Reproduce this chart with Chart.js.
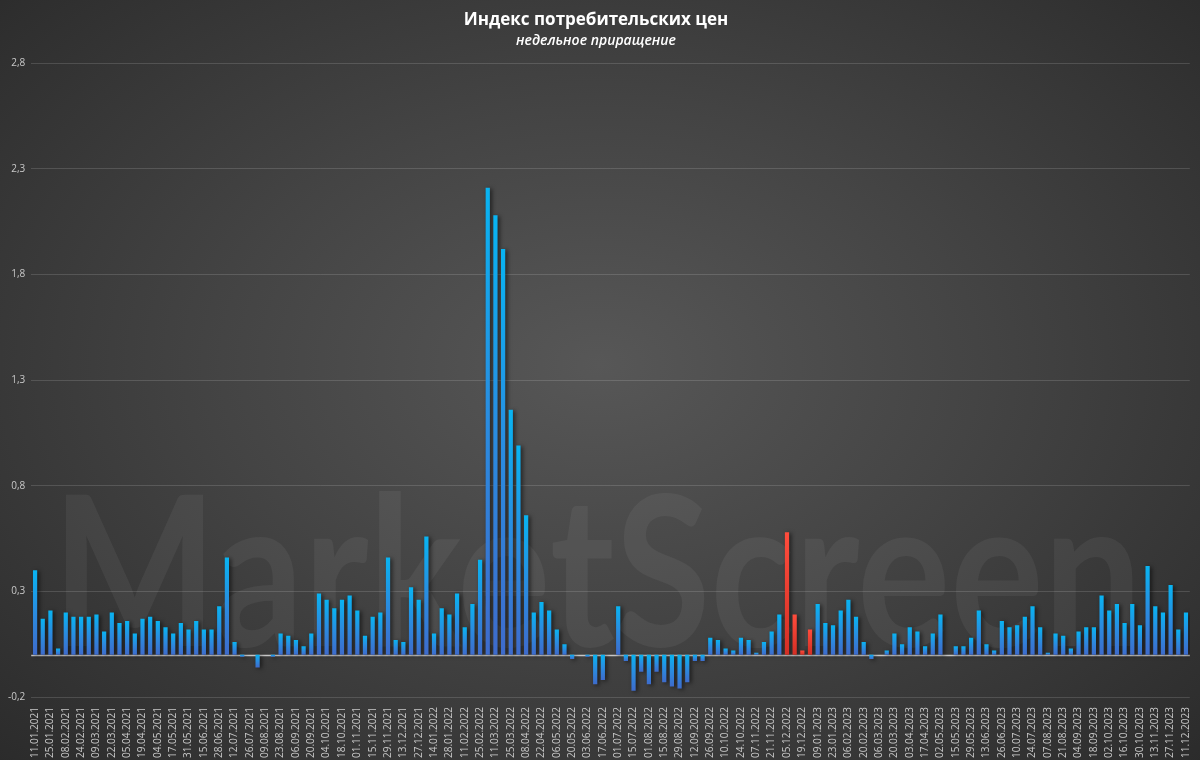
<!DOCTYPE html>
<html lang="ru">
<head>
<meta charset="utf-8">
<title>Индекс потребительских цен</title>
<script src="https://cdn.jsdelivr.net/npm/chart.js@4.4.1/dist/chart.umd.min.js"></script>
<style>
    html, body {
        margin: 0;
        padding: 0;
        width: 1200px;
        height: 760px;
        overflow: hidden;
        background: radial-gradient(ellipse 70% 75% at 50% 48%, #575757 0%, #444444 45%, #2b2b2b 100%);
    }
    #wrap {
        position: relative;
        width: 1200px;
        height: 760px;
    }
</style>
</head>
<body>
<div id="wrap"><canvas id="chart-ipc"></canvas></div>
<script>
// Данные: недельное приращение ИПЦ, %
const weeks = [
    '11.01.2021', '18.01.2021', '25.01.2021', '01.02.2021', '08.02.2021', '15.02.2021',
    '24.02.2021', '01.03.2021', '09.03.2021', '15.03.2021', '22.03.2021', '29.03.2021',
    '05.04.2021', '12.04.2021', '19.04.2021', '26.04.2021', '04.05.2021', '11.05.2021',
    '17.05.2021', '24.05.2021', '31.05.2021', '07.06.2021', '15.06.2021', '21.06.2021',
    '28.06.2021', '05.07.2021', '12.07.2021', '19.07.2021', '26.07.2021', '02.08.2021',
    '09.08.2021', '16.08.2021', '23.08.2021', '30.08.2021', '06.09.2021', '13.09.2021',
    '20.09.2021', '27.09.2021', '04.10.2021', '11.10.2021', '18.10.2021', '25.10.2021',
    '01.11.2021', '08.11.2021', '15.11.2021', '22.11.2021', '29.11.2021', '06.12.2021',
    '13.12.2021', '20.12.2021', '27.12.2021', '10.01.2022', '14.01.2022', '21.01.2022',
    '28.01.2022', '04.02.2022', '11.02.2022', '18.02.2022', '25.02.2022', '04.03.2022',
    '11.03.2022', '18.03.2022', '25.03.2022', '01.04.2022', '08.04.2022', '15.04.2022',
    '22.04.2022', '29.04.2022', '06.05.2022', '13.05.2022', '20.05.2022', '27.05.2022',
    '03.06.2022', '10.06.2022', '17.06.2022', '24.06.2022', '01.07.2022', '08.07.2022',
    '15.07.2022', '22.07.2022', '01.08.2022', '08.08.2022', '15.08.2022', '22.08.2022',
    '29.08.2022', '05.09.2022', '12.09.2022', '19.09.2022', '26.09.2022', '03.10.2022',
    '10.10.2022', '17.10.2022', '24.10.2022', '31.10.2022', '07.11.2022', '14.11.2022',
    '21.11.2022', '28.11.2022', '05.12.2022', '12.12.2022', '19.12.2022', '26.12.2022',
    '09.01.2023', '16.01.2023', '23.01.2023', '30.01.2023', '06.02.2023', '13.02.2023',
    '20.02.2023', '27.02.2023', '06.03.2023', '13.03.2023', '20.03.2023', '27.03.2023',
    '03.04.2023', '10.04.2023', '17.04.2023', '24.04.2023', '02.05.2023', '10.05.2023',
    '15.05.2023', '22.05.2023', '29.05.2023', '05.06.2023', '13.06.2023', '19.06.2023',
    '26.06.2023', '03.07.2023', '10.07.2023', '17.07.2023', '24.07.2023', '31.07.2023',
    '07.08.2023', '14.08.2023', '21.08.2023', '28.08.2023', '04.09.2023', '11.09.2023',
    '18.09.2023', '25.09.2023', '02.10.2023', '09.10.2023', '16.10.2023', '23.10.2023',
    '30.10.2023', '06.11.2023', '13.11.2023', '20.11.2023', '27.11.2023', '04.12.2023',
    '11.12.2023'
];

const cpiWeekly = [
    0.40, 0.17, 0.21, 0.03, 0.20, 0.18, 0.18, 0.18, 0.19, 0.11,
    0.20, 0.15, 0.16, 0.10, 0.17, 0.18, 0.16, 0.13, 0.10, 0.15,
    0.12, 0.16, 0.12, 0.12, 0.23, 0.46, 0.06, -0.01, 0.00, -0.06,
    0.00, -0.01, 0.10, 0.09, 0.07, 0.04, 0.10, 0.29, 0.26, 0.22,
    0.26, 0.28, 0.21, 0.09, 0.18, 0.20, 0.46, 0.07, 0.06, 0.32,
    0.26, 0.56, 0.10, 0.22, 0.19, 0.29, 0.13, 0.24, 0.45, 2.21,
    2.08, 1.92, 1.16, 0.99, 0.66, 0.20, 0.25, 0.21, 0.12, 0.05,
    -0.02, 0.00, -0.01, -0.14, -0.12, 0.00, 0.23, -0.03, -0.17, -0.08,
    -0.14, -0.08, -0.13, -0.15, -0.16, -0.13, -0.03, -0.03, 0.08, 0.07,
    0.03, 0.02, 0.08, 0.07, 0.01, 0.06, 0.11, 0.19, 0.58, 0.19,
    0.02, 0.12, 0.24, 0.15, 0.14, 0.21, 0.26, 0.18, 0.06, -0.02,
    0.00, 0.02, 0.10, 0.05, 0.13, 0.11, 0.04, 0.10, 0.19, 0.00,
    0.04, 0.04, 0.08, 0.21, 0.05, 0.02, 0.16, 0.13, 0.14, 0.18,
    0.23, 0.13, 0.01, 0.10, 0.09, 0.03, 0.11, 0.13, 0.13, 0.28,
    0.21, 0.24, 0.15, 0.24, 0.14, 0.42, 0.23, 0.20, 0.33, 0.12,
    0.20
];

// Недели, выделенные красным
const highlightedWeeks = ['05.12.2022', '12.12.2022', '19.12.2022', '26.12.2022'];

const yTicks = [-0.2, 0.3, 0.8, 1.3, 1.8, 2.3, 2.8];

const watermarkText = 'MarketScreen';

// Градиент для столбца
function barGradient(context) {
    const chart = context.chart;
    const idx = context.dataIndex;
    const red = highlightedWeeks.includes(weeks[idx]);
    const yScale = chart.scales.y;
    if (!chart.chartArea || !yScale) {
        return red ? '#e8392c' : '#1a9ae8';
    }
    const v = cpiWeekly[idx];
    const y0 = yScale.getPixelForValue(0);
    const y1 = yScale.getPixelForValue(v);
    const top = Math.min(y0, y1);
    const bottom = Math.max(y0, y1) + 0.01;
    const g = chart.ctx.createLinearGradient(0, top, 0, bottom);
    if (red) {
        g.addColorStop(0, '#ff4c3c');
        g.addColorStop(1, '#d42f25');
    } else {
        g.addColorStop(0, '#08b4f2');
        g.addColorStop(0.5, '#2a8ce0');
        g.addColorStop(1, '#3e6bcb');
    }
    return g;
}

// Фоновая надпись, нулевая линия и тень столбцов
const watermarkPlugin = {
    id: 'watermark',
    beforeDatasetsDraw(chart) {
        const ctx = chart.ctx;
        ctx.save();
        ctx.font = '700 208px Lato, "Open Sans", sans-serif';
        ctx.fillStyle = 'rgba(255, 255, 255, 0.055)';
        ctx.textBaseline = 'alphabetic';
        const w = ctx.measureText(watermarkText).width;
        const targetW = 1090;
        ctx.translate(52, 646);
        ctx.scale(targetW / w, 1);
        ctx.fillText(watermarkText, 0, 0);
        ctx.restore();

        // нулевая линия
        const y0 = Math.round(chart.scales.y.getPixelForValue(0)) + 0.5;
        ctx.save();
        ctx.strokeStyle = 'rgba(225, 225, 225, 0.85)';
        ctx.lineWidth = 1.5;
        ctx.beginPath();
        ctx.moveTo(chart.chartArea.left, y0);
        ctx.lineTo(chart.chartArea.right, y0);
        ctx.stroke();
        ctx.restore();

        ctx.save();
        ctx.shadowColor = 'rgba(0, 0, 0, 0.6)';
        ctx.shadowBlur = 4;
        ctx.shadowOffsetX = 2;
        ctx.shadowOffsetY = 1;
    },
    afterDatasetsDraw(chart) {
        chart.ctx.restore();
    }
};

function formatTick(v) {
    return Number(v).toFixed(1).replace('.', ',');
}

document.addEventListener('DOMContentLoaded', () => {
    const ctx = document.getElementById('chart-ipc').getContext('2d');
    new Chart(ctx, {
        type: 'bar',
        data: {
            labels: weeks,
            datasets: [{
                label: 'ИПЦ, неделя к неделе (%)',
                data: cpiWeekly,
                backgroundColor: barGradient,
                borderWidth: 0,
                categoryPercentage: 1.0,
                barPercentage: 0.55
            }]
        },
        options: {
            responsive: true,
            maintainAspectRatio: false,
            animation: false,
            layout: {
                padding: { left: 2, right: 10, top: 0, bottom: 0 }
            },
            plugins: {
                legend: { display: false },
                tooltip: { enabled: false },
                title: {
                    display: true,
                    text: 'Индекс потребительских цен',
                    color: '#ffffff',
                    font: { family: '"Open Sans", sans-serif', size: 17, weight: 'bold' },
                    padding: { top: 10, bottom: 2 }
                },
                subtitle: {
                    display: true,
                    text: 'недельное приращение',
                    color: '#ffffff',
                    font: { family: '"Open Sans", sans-serif', size: 14, style: 'italic', weight: '600' },
                    padding: { top: 0, bottom: 14 }
                }
            },
            scales: {
                x: {
                    offset: true,
                    grid: { display: false },
                    border: { display: false },
                    ticks: {
                        autoSkip: false,
                        maxRotation: 90,
                        minRotation: 90,
                        color: '#c8c8c8',
                        padding: 2,
                        font: { family: '"Open Sans", sans-serif', size: 10 },
                        callback: (val, idx) => idx % 2 === 0 ? weeks[idx] : ''
                    }
                },
                y: {
                    min: -0.2,
                    max: 2.8,
                    afterBuildTicks: axis => {
                        axis.ticks = yTicks.map(v => ({ value: v }));
                    },
                    grid: {
                        color: 'rgba(255, 255, 255, 0.14)',
                        drawTicks: false
                    },
                    border: { display: false },
                    ticks: {
                        color: '#c8c8c8',
                        padding: 6,
                        font: { family: '"Open Sans", sans-serif', size: 10 },
                        callback: v => formatTick(v)
                    }
                }
            }
        },
        plugins: [watermarkPlugin]
    });
});
</script>
</body>
</html>
